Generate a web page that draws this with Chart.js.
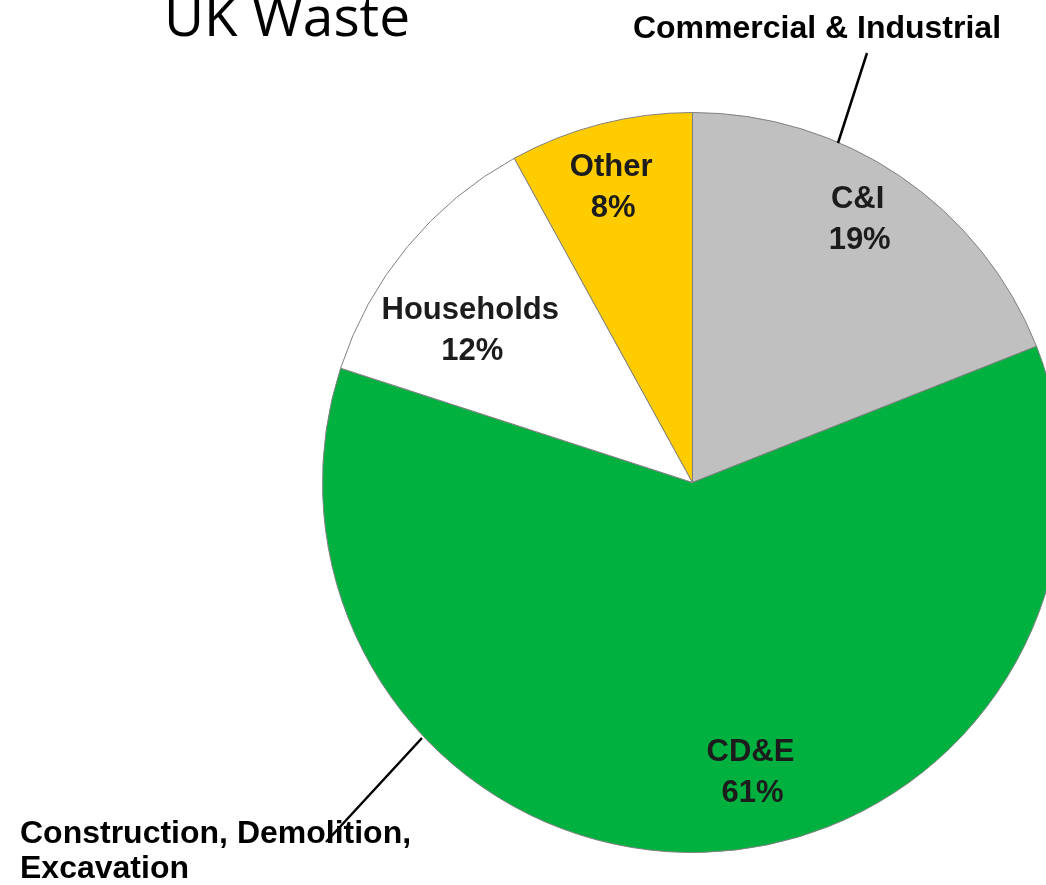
<!DOCTYPE html>
<html>
<head>
<meta charset="utf-8">
<script src="https://cdn.jsdelivr.net/npm/chart.js@4"></script>
<style>
  html, body { margin: 0; padding: 0; background: #ffffff; overflow: hidden; }
  #wrap { width: 1100px; height: 885px; position: relative; }
</style>
</head>
<body>
<div id="wrap"><canvas id="myChart" width="1100" height="885"></canvas></div>
<script>
// slices, clockwise from 12 o'clock
var labels = ['C&I', 'CD&E', 'Households', 'Other'];
var values = [19, 61, 12, 8];
var colors = ['#c0c0c0', '#00b140', '#ffffff', '#ffcc00'];

// where each inside label sits: fraction of radius, angle tweak (deg)
var labelSpots = [[0.84, -2.1], [0.80, -9.5], [0.728, -5.2], [0.828, -1]];

const sliceText = {
    id: 'sliceText',
    afterDatasetsDraw(chart) {
        const ctx = chart.ctx;
        const arcs = chart.getDatasetMeta(0).data;
        ctx.save();
        ctx.fillStyle = '#1c1c1c';
        ctx.font = 'bold 31px "Liberation Sans", Arial, sans-serif';
        ctx.textAlign = 'center';
        ctx.textBaseline = 'middle';
        arcs.forEach((arc, i) => {
            const p = arc.getProps(['x', 'y', 'startAngle', 'endAngle', 'outerRadius']);
            const mid = (p.startAngle + p.endAngle) / 2 + labelSpots[i][1] * Math.PI / 180;
            const r = p.outerRadius * labelSpots[i][0];
            const x = p.x + Math.cos(mid) * r;
            const y = p.y + Math.sin(mid) * r;
            ctx.fillText(labels[i], x, y - 20);
            ctx.fillText(values[i] + '%', x + 2, y + 21);
        });

        // title
        ctx.fillStyle = '#000000';
        ctx.textAlign = 'left';
        ctx.textBaseline = 'alphabetic';
        ctx.font = '55px "Open Sans", sans-serif';
        ctx.fillText('UK Waste', 164, 36);

        // callouts
        ctx.font = 'bold 32px "Liberation Sans", Arial, sans-serif';
        ctx.textAlign = 'center';
        ctx.fillText('Commercial & Industrial', 817, 38);
        ctx.textAlign = 'left';
        ctx.fillText('Construction, Demolition,', 20, 843);
        ctx.fillText('Excavation', 20, 878);

        ctx.strokeStyle = '#000000';
        ctx.lineWidth = 2.5;
        ctx.beginPath();
        ctx.moveTo(867, 53);
        ctx.lineTo(838, 143);
        ctx.moveTo(422, 738);
        ctx.lineTo(326, 842);
        ctx.stroke();
        ctx.restore();
    }
};

var ctx = document.getElementById('myChart').getContext('2d');
var chart = new Chart(ctx, {
    type: 'pie',
    data: {
        labels: labels,
        datasets: [{
            data: values,
            backgroundColor: colors,
            borderColor: '#808080',
            borderWidth: 1,
            hoverOffset: 0
        }]
    },
    options: {
        responsive: false,
        animation: false,
        events: [],
        layout: { padding: { left: 322, right: 37, top: 112, bottom: 32 } },
        plugins: {
            legend: { display: false },
            tooltip: { enabled: false },
            title: { display: false }
        }
    },
    plugins: [sliceText]
});
</script>
</body>
</html>
